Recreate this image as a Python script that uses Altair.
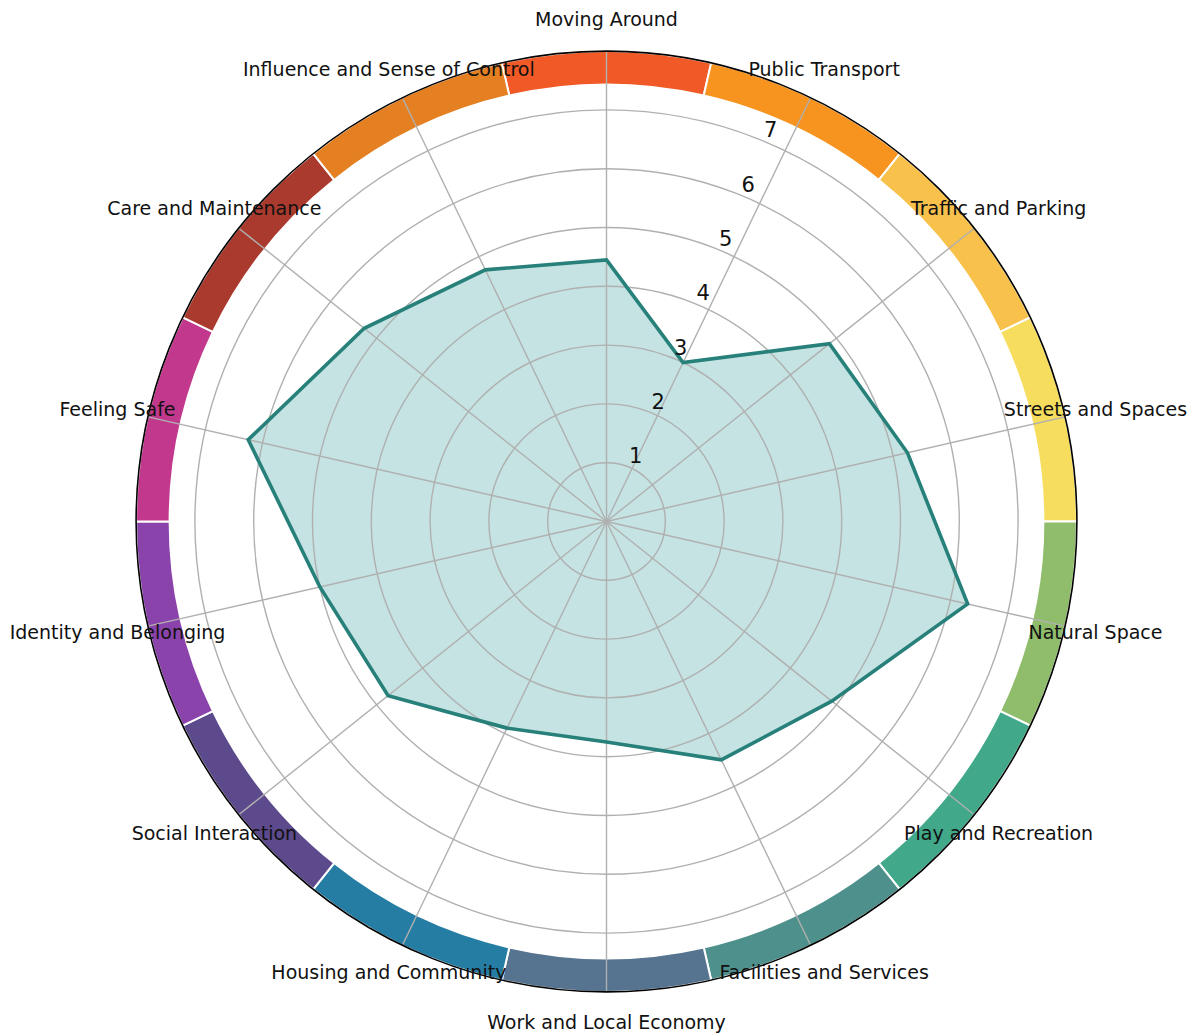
import math
import altair as alt
import pandas as pd

# ---- data ----
categories = [
    "Moving Around", "Public Transport", "Traffic and Parking", "Streets and Spaces",
    "Natural Space", "Play and Recreation", "Facilities and Services",
    "Work and Local Economy", "Housing and Community", "Social Interaction",
    "Identity and Belonging", "Feeling Safe", "Care and Maintenance",
    "Influence and Sense of Control",
]
scores = [4.45, 3.0, 4.85, 5.25, 6.3, 4.9, 4.5, 3.75, 3.9, 4.75, 5.0, 6.25, 5.27, 4.75]
ring_colors = [
    "#F15A26", "#F7931F", "#F8C14B", "#F6DD5D", "#8FBD6B", "#41A98A", "#4E918C",
    "#56738F", "#267DA3", "#5D4A8C", "#8B43AC", "#C2388D", "#AB3A2E", "#E47F22",
]
radial_ticks = [1, 2, 3, 4, 5, 6, 7]

N = len(categories)
df = pd.DataFrame({"idx": list(range(N)), "cat": categories, "score": scores})
df_ticks = pd.DataFrame({"r": radial_ticks})
df_one = pd.DataFrame({"r": [8]})

# ---- layout ----
PX = 58.8              # pixels per unit
W, H = 1182, 1028
CX, CY = 598.5, 513.5  # centre inside the plot area
xs = alt.Scale(domain=[-CX / PX, (W - CX) / PX], nice=False, zero=False)
ys = alt.Scale(domain=[-(H - CY) / PX, CY / PX], nice=False, zero=False)
rs = alt.Scale(type="linear", domain=[0, 8], range=[0, 8 * PX], zero=True, nice=False)
FONT = "DejaVu Sans"
STEP = f"2*PI/{N}"

cx = alt.X(datum=0, scale=xs, axis=None)
cy = alt.Y(datum=0, scale=ys, axis=None)

base = alt.Chart(df).transform_calculate(
    ang=f"datum.idx*{STEP}",
    t0=f"(datum.idx-0.5)*{STEP}",
    t1=f"(datum.idx+0.5)*{STEP}",
    px="datum.score*sin(datum.ang)",
    py="datum.score*cos(datum.ang)",
    sx="8*sin(datum.ang)",
    sy="8*cos(datum.ang)",
    lx="8.53*sin(datum.ang)",
    ly="8.53*cos(datum.ang)",
    zero="0",
)

ring = base.mark_arc(stroke="white", strokeWidth=2).encode(
    x=cx, y=cy,
    theta=alt.Theta("t0:Q", scale=None),
    theta2=alt.Theta2("t1:Q"),
    radius=alt.Radius(datum=8, scale=rs),
    radius2=alt.Radius2(datum=7.43),
    color=alt.Color("cat:N", scale=alt.Scale(domain=categories, range=ring_colors), legend=None),
)

fill = base.mark_line(interpolate="linear-closed", fill="#C4E3E2", stroke="#C4E3E2",
                      strokeWidth=0).encode(
    x=alt.X("px:Q", scale=xs, axis=None),
    y=alt.Y("py:Q", scale=ys, axis=None),
    order="idx:Q",
)

grid = alt.Chart(df_ticks).mark_arc(filled=False, stroke="#B0B0B0", strokeWidth=1.4).encode(
    x=cx, y=cy,
    theta=alt.Theta(datum=0, scale=None),
    theta2=alt.Theta2(datum=2 * math.pi),
    radius=alt.Radius("r:Q", scale=rs, stack=None),
)

spokes = base.mark_rule(color="#B0B0B0", strokeWidth=1.4).encode(
    x=alt.X("zero:Q", scale=xs, axis=None),
    y=alt.Y("zero:Q", scale=ys, axis=None),
    x2="sx:Q",
    y2="sy:Q",
)

line = base.mark_line(interpolate="linear-closed", stroke="#27807A", strokeWidth=3.6).encode(
    x=alt.X("px:Q", scale=xs, axis=None),
    y=alt.Y("py:Q", scale=ys, axis=None),
    order="idx:Q",
)

outer = alt.Chart(df_one).mark_arc(filled=False, stroke="black", strokeWidth=1.6).encode(
    x=cx, y=cy,
    theta=alt.Theta(datum=0, scale=None),
    theta2=alt.Theta2(datum=2 * math.pi),
    radius=alt.Radius("r:Q", scale=rs, stack=None),
)

tick_labels = alt.Chart(df_ticks).transform_calculate(
    tx="datum.r*sin(PI/8)",
    ty="datum.r*cos(PI/8)",
).mark_text(align="left", baseline="bottom", fontSize=21, font=FONT, color="#111111").encode(
    x=alt.X("tx:Q", scale=xs, axis=None),
    y=alt.Y("ty:Q", scale=ys, axis=None),
    text="r:Q",
)

cat_labels = base.mark_text(align="center", baseline="middle", fontSize=19, font=FONT,
                            color="#111111").encode(
    x=alt.X("lx:Q", scale=xs, axis=None),
    y=alt.Y("ly:Q", scale=ys, axis=None),
    text="cat:N",
)

chart = alt.layer(ring, fill, grid, spokes, line, outer, tick_labels, cat_labels).properties(
    width=W, height=H, padding=0, autosize="none"
).configure_view(stroke=None)

chart.save("out.html", embed_options={"renderer": "svg", "actions": False})
